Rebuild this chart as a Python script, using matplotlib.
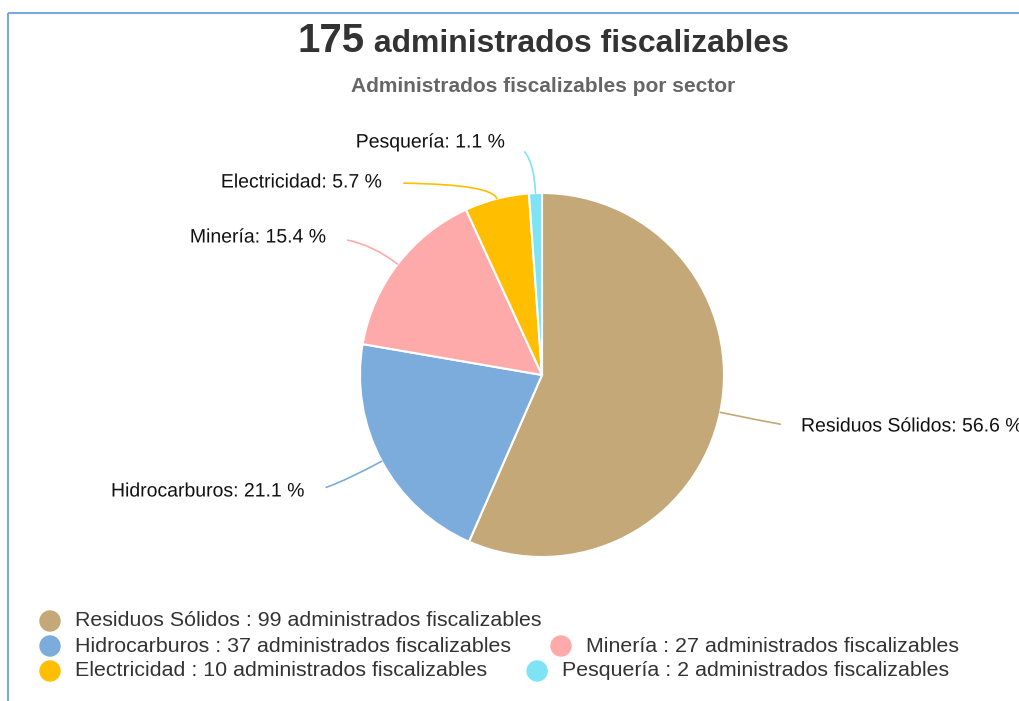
import matplotlib
matplotlib.use("Agg")
import matplotlib.pyplot as plt
from matplotlib.patches import Circle
import matplotlib.patheffects as pe
import numpy as np

plt.rcParams['font.family'] = ['Liberation Sans', 'DejaVu Sans']

# data
sectors = ["Residuos Sólidos", "Hidrocarburos", "Minería", "Electricidad", "Pesquería"]
counts = [99, 37, 27, 10, 2]
colors = ["#c4a878", "#7cacdc", "#ffaaaa", "#ffbf00", "#7de3f5"]
total = sum(counts)

W, H = 1020, 701
fig = plt.figure(figsize=(W / 100, H / 100), dpi=100)
ax = fig.add_axes([0, 0, 1, 1])

# pie centre / radius in pixels (y measured from bottom)
cx, cy, r = 542, H - 375, 182
wedges, _ = ax.pie(counts, colors=colors, startangle=90, counterclock=False,
                   center=(cx, cy), radius=r,
                   wedgeprops=dict(edgecolor="white", linewidth=1.5))
ax.set_xlim(0, W)
ax.set_ylim(0, H)
ax.set_aspect("auto")
ax.axis("off")

# data labels: (label point x, y from top, side)
label_pts = [(801, 427, "left"), (306, 492, "right"), (327, 238, "right"),
             (383, 183, "right"), (506, 143, "right")]
for w, name, n, c, (lx, ly, side) in zip(wedges, sectors, counts, colors, label_pts):
    mid = (w.theta1 + w.theta2) / 2
    ex = cx + r * np.cos(np.radians(mid))
    ey = cy + r * np.sin(np.radians(mid))
    pct = 100 * n / total
    ax.annotate(f"{name}: {pct:.1f} %", xy=(ex, ey), xytext=(lx, H - ly),
                ha=side, va="center", fontsize=14, color="#111111",
                path_effects=[pe.withStroke(linewidth=2, foreground="white")],
                arrowprops=dict(arrowstyle="-", color=c, lw=1.2,
                                shrinkA=13, shrinkB=0,
                                relpos=(0, 0.5) if side == "left" else (1, 0.5),
                                connectionstyle=f"angle3,angleA=0,angleB={mid:.1f}"))

# title
renderer = fig.canvas.get_renderer()
t1 = ax.text(0, H - 52, "175", fontsize=29, fontweight="bold", color="#333333", va="baseline")
t2 = ax.text(0, H - 52, " administrados fiscalizables", fontsize=23, fontweight="bold",
             color="#333333", va="baseline")
w1 = t1.get_window_extent(renderer).width
w2 = t2.get_window_extent(renderer).width
x0 = 543 - (w1 + w2) / 2
t1.set_x(x0)
t2.set_x(x0 + w1)
ax.text(543, H - 86, "Administrados fiscalizables por sector", fontsize=15,
        fontweight="bold", color="#666666", ha="center", va="center")

# legend, flowing left to right like the original
x, row_y = 40, 621
for name, n, c in zip(sectors, counts, colors):
    t = ax.text(0, 0, f"{name} : {n} administrados fiscalizables", fontsize=15.4,
                color="#333333", va="center")
    tw = t.get_window_extent(renderer).width
    if x > 40 and x + 35 + tw > 1000:
        x = 40
        row_y += 25
    ax.add_patch(Circle((x + 10, H - row_y), 10, color=c))
    t.set_position((x + 35, H - row_y))
    x = x + 35 + tw + 40

# frame lines of the widget
ax.plot([8, W], [H - 13, H - 13], color="#7aaadd", lw=1.5, solid_capstyle="butt")
ax.plot([8, 8], [H - 13, 0], color="#7aaadd", lw=1.5, solid_capstyle="butt")

fig.savefig("out.png", dpi=100)
